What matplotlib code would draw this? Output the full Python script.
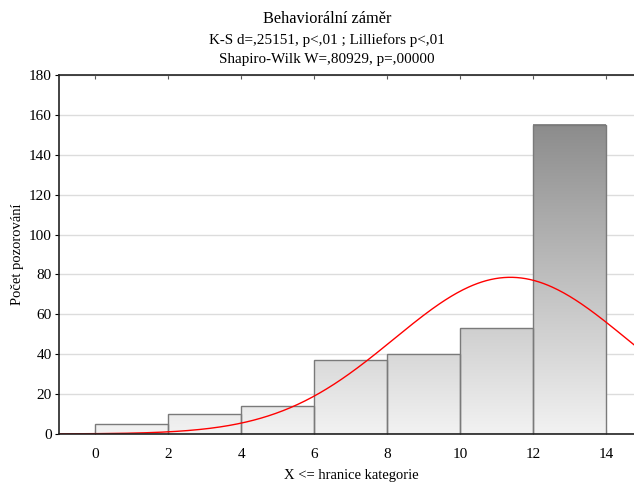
import numpy as np
import matplotlib
matplotlib.use('Agg')
import matplotlib.pyplot as plt
from matplotlib.colors import LinearSegmentedColormap

plt.rcParams['font.family'] = ['Liberation Serif', 'DejaVu Serif']

# histogram data (upper category boundaries)
bin_edges = [0, 2, 4, 6, 8, 10, 12, 14]
counts = [5, 10, 14, 37, 40, 53, 155]

# fitted normal curve parameters
fit_mean = 11.37
fit_sd = 3.19

title = 'Behaviorální záměr'
subtitle1 = 'K-S d=,25151, p<,01 ; Lilliefors p<,01'
subtitle2 = 'Shapiro-Wilk W=,80929, p=,00000'
xlabel = 'X <= hranice kategorie'
ylabel = 'Počet pozorování'


def main():
    fig = plt.figure(figsize=(6.34, 4.87), dpi=100)
    ax = fig.add_axes([0.093, 0.109, 0.921, 0.737])

    cmap = LinearSegmentedColormap.from_list('grey', ['#f2f2f2', '#8c8c8c'])
    n_total = sum(counts)
    for i, h in enumerate(counts):
        x0, x1 = bin_edges[i], bin_edges[i + 1]
        grad = np.linspace(0, h, 256).reshape(-1, 1)
        ax.imshow(grad, extent=[x0, x1, 0, h], origin='lower', cmap=cmap,
                  vmin=0, vmax=155, aspect='auto', zorder=2)
        ax.bar(x0, h, width=x1 - x0, align='edge', facecolor='none',
               edgecolor='#7a7a7a', linewidth=1.0, zorder=3)

    # expected normal frequencies
    width = bin_edges[1] - bin_edges[0]
    xs = np.linspace(-1, 15, 400)
    ys = n_total * width / (fit_sd * np.sqrt(2 * np.pi)) * np.exp(-0.5 * ((xs - fit_mean) / fit_sd) ** 2)
    ax.plot(xs, ys, color='#ff0000', linewidth=1.0, zorder=4)

    ax.set_xlim(-1, 15)
    ax.set_ylim(0, 180)
    ax.set_xticks(bin_edges)
    ax.set_yticks(range(0, 181, 20))
    ax.yaxis.grid(True, color='#dcdcdc', linewidth=1.0, zorder=0)
    ax.set_axisbelow(True)

    ax.spines['right'].set_visible(False)
    for s in ['left', 'top', 'bottom']:
        ax.spines[s].set_linewidth(1.2)
        ax.spines[s].set_color('#222222')
        ax.spines[s].set_zorder(5)

    ax.tick_params(axis='x', direction='in', length=3, top=True, labelsize=11, pad=10, color='#555555')
    ax.tick_params(axis='y', direction='out', length=3, labelsize=11, pad=2)

    ax.set_xlabel(xlabel, fontsize=10.5, labelpad=6)
    ax.set_ylabel(ylabel, fontsize=10.5, labelpad=4)

    fig.text(0.516, 0.960, title, ha='center', va='center', fontsize=11.8)
    fig.text(0.516, 0.917, subtitle1, ha='center', va='center', fontsize=10.9)
    fig.text(0.516, 0.877, subtitle2, ha='center', va='center', fontsize=10.9)

    fig.savefig('out.png', dpi=100)


if __name__ == '__main__':
    main()
